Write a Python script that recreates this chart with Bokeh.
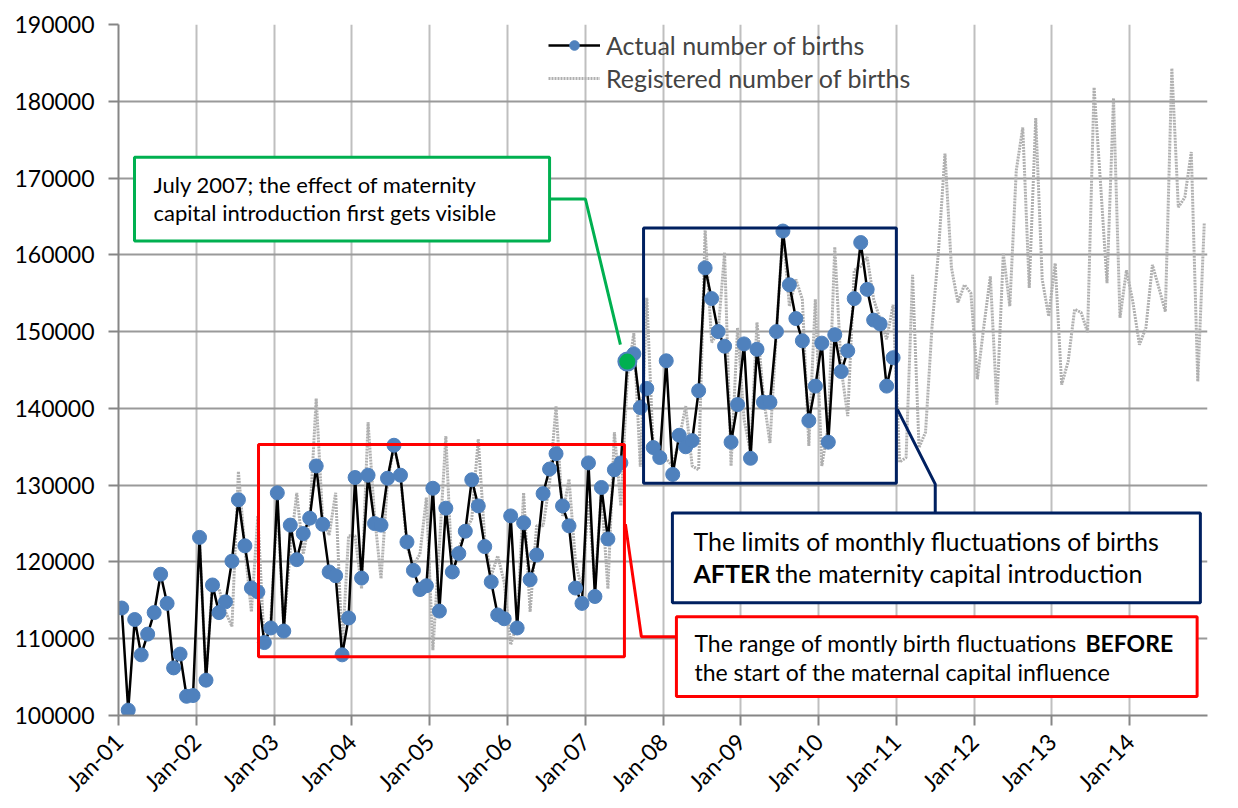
import math
from bokeh.plotting import figure
from bokeh.models import Range1d, FixedTicker, Legend, LegendItem, BoxAnnotation, Label, NumeralTickFormatter
from bokeh.embed import file_html
from bokeh.resources import INLINE

# ---------------- data ----------------
tick_labels = ["Jan-01", "Jan-02", "Jan-03", "Jan-04", "Jan-05", "Jan-06", "Jan-07",
               "Jan-08", "Jan-09", "Jan-10", "Jan-11", "Jan-12", "Jan-13", "Jan-14"]

# Actual number of births, monthly Jan 2001 - Dec 2010
actual_births = [
    114000, 100700, 112500, 107900, 110600, 113400, 118400, 114600, 106200, 108000, 102500, 102600,  # 2001
    123200, 104600, 117000, 113400, 114800, 120100, 128100, 122100, 116600, 116100, 109500, 111400,  # 2002
    129000, 111000, 124800, 120300, 123700, 125700, 132500, 124900, 118700, 118200, 107900, 112700,  # 2003
    131000, 117900, 131300, 125000, 124800, 130900, 135200, 131300, 122600, 118900, 116400, 116900,  # 2004
    129600, 113600, 127000, 118700, 121100, 124000, 130700, 127300, 122000, 117400, 113100, 112600,  # 2005
    126000, 111400, 125100, 117700, 120900, 128900, 132100, 134100, 127300, 124700, 116600, 114600,  # 2006
    132900, 115500, 129700, 123000, 132000, 132900, 146100, 147100, 140100, 142600, 134900, 133600,  # 2007
    146200, 131400, 136500, 135000, 135800, 142300, 158300, 154300, 150000, 148100, 135600, 140500,  # 2008
    148400, 133500, 147700, 140800, 140800, 150000, 163100, 156100, 151700, 148800, 138400, 142900,  # 2009
    148500, 135600, 149600, 144800, 147500, 154300, 161600, 155500, 151500, 151000, 142900, 146600,  # 2010
]

# Registered number of births, monthly Jan 2002 - Dec 2014
registered_births = [
    122500, 105000, 117400, 116500, 113500, 111600, 131800, 121700, 113500, 126000, 108800, 112500,  # 2002
    127500, 111500, 121500, 129000, 121000, 125600, 141300, 125500, 123500, 129000, 108700, 123400,  # 2003
    123400, 116500, 138200, 126000, 117800, 130400, 135100, 131300, 122000, 119600, 121000, 128400,  # 2004
    108500, 122000, 136400, 117800, 121800, 124000, 125600, 136000, 123000, 118200, 120800, 117400,  # 2005
    109200, 112000, 129000, 113500, 124700, 124700, 130200, 140300, 126000, 130800, 120000, 116400,  # 2006
    128000, 117000, 129000, 116500, 136900, 127300, 144000, 149800, 132400, 154400, 134700, 134300,  # 2007
    133400, 132500, 136000, 140300, 132500, 132000, 163200, 148600, 149900, 160300, 132500, 150500,  # 2008
    138600, 134300, 151200, 141500, 135500, 150000, 163200, 153300, 156800, 154200, 135100, 154200,  # 2009
    132500, 137700, 161000, 145100, 139000, 158000, 158500, 159700, 154200, 151600, 149000, 153500,  # 2010
    133000, 133600, 157400, 134900, 136900, 150600, 160500, 173200, 158300, 153800, 156100, 155000,  # 2011
    143800, 150700, 157200, 140500, 160200, 153300, 171000, 176600, 155700, 177800, 156800, 152000,  # 2012
    158900, 143100, 146100, 152900, 152500, 149900, 181800, 169300, 156300, 180400, 151800, 158000,  # 2013
    153800, 148300, 150500, 158700, 155700, 152600, 184300, 166200, 167500, 173400, 143500, 164100,  # 2014
]

actual_start_month = 0       # Jan 2001
registered_start_month = 12  # Jan 2002
highlight_month = 78         # July 2007

# month index -> x (centre of month on a date axis starting Jan 2001)
ax = [actual_start_month + i + 0.5 for i in range(len(actual_births))]
rx = [registered_start_month + i + 0.5 for i in range(len(registered_births))]

FONT = "Lato"

p = figure(width=1230, height=808, output_backend="svg", toolbar_location=None,
           x_range=Range1d(0, 168), y_range=Range1d(100000, 190000),
           min_border_left=118, min_border_right=23, min_border_top=24, min_border_bottom=91)
p.outline_line_color = None
p.background_fill_color = "white"
p.border_fill_color = "white"

# axes
p.xaxis.ticker = FixedTicker(ticks=[12 * i for i in range(14)])
p.xaxis.major_label_overrides = {12 * i: lab for i, lab in enumerate(tick_labels)}
p.xaxis.major_label_orientation = math.pi / 4
p.xaxis.major_label_text_font = FONT
p.xaxis.major_label_text_font_size = "23px"
p.xaxis.major_label_text_color = "black"
p.xaxis.major_label_standoff = 12
p.yaxis.ticker = FixedTicker(ticks=[100000 + 10000 * i for i in range(10)])
p.yaxis.formatter = NumeralTickFormatter(format="0")
p.yaxis.major_label_text_font = FONT
p.yaxis.major_label_text_font_size = "23px"
p.yaxis.major_label_text_color = "black"
p.yaxis.major_label_standoff = 14
for a in (p.xaxis[0], p.yaxis[0]):
    a.axis_line_color = "#868686"
    a.axis_line_width = 2
    a.major_tick_line_color = "#868686"
    a.major_tick_line_width = 2
    a.major_tick_out = 10
    a.major_tick_in = 0
    a.minor_tick_line_color = None

p.xgrid.ticker = FixedTicker(ticks=[12 * i for i in range(15)])
p.xgrid.grid_line_color = "#BFBFBF"
p.xgrid.grid_line_width = 2
p.ygrid.grid_line_color = "#9A9A9A"
p.ygrid.grid_line_width = 2

# series
r_reg = p.line(rx, registered_births, line_color="#B0B0B0", line_width=3, line_dash="2 1")
r_act_line = p.line(ax, actual_births, line_color="black", line_width=2.5)
r_act_pts = p.scatter(ax, actual_births, size=14, fill_color="#4F81BD", line_color="#4F81BD")
p.scatter([ax[highlight_month]], [actual_births[highlight_month]], size=18,
          fill_color="#00B050", line_color="#4F81BD", line_width=2)

legend = Legend(items=[
    LegendItem(label="Actual number of births", renderers=[r_act_line, r_act_pts]),
    LegendItem(label="Registered number of births", renderers=[r_reg]),
], location=(430, 622))
legend.label_text_font = FONT
legend.label_text_font_size = "25px"
legend.glyph_width = 52
legend.glyph_height = 24
legend.label_height = 24
legend.label_standoff = 6
legend.spacing = 3
legend.padding = 0
legend.margin = 0
legend.border_line_color = None
legend.background_fill_alpha = 0
p.add_layout(legend, "center")

# connector lines
p.line([66.5, 72.03, 77.43], [167270, 167270, 148310], line_color="#00B050", line_width=3)
p.line([78.2, 80.67, 86.07], [124930, 110260, 110260], line_color="#FF0000", line_width=3)
p.line([120.16, 126.0, 126.0], [139870, 130130, 126360], line_color="#002060", line_width=3)

def box(l, r, b, t, color, fill=False):
    p.add_layout(BoxAnnotation(left=l, right=r, bottom=b, top=t,
                               fill_color="white", fill_alpha=1 if fill else 0,
                               line_color=color, line_alpha=1, line_width=3))

# range boxes
box(21.6, 78.05, 107660, 135300, "#FF0000")
box(81.0, 120.0, 130260, 163500, "#002060")
# callout boxes
box(2.47, 66.5, 161800, 172700, "#00B050", fill=True)
box(86.07, 166.4, 102470, 112860, "#FF0000", fill=True)
box(85.45, 166.9, 114680, 126360, "#002060", fill=True)

def lab(x, y, t, size, bold=False):
    p.add_layout(Label(x=x, y=y, text=t, text_font=FONT, text_font_size=size,
                       text_font_style="bold" if bold else "normal", text_color="black",
                       text_baseline="middle", text_align="left"))

lab(5.40, 169220, "July 2007; the effect of maternity", "22px")
lab(5.40, 165450, "capital introduction first gets visible", "22px")
lab(88.69, 122730, "The limits of monthly fluctuations of births", "25px")
lab(88.69, 118570, "AFTER", "25px", bold=True)
lab(101.34, 118570, "the maternity capital introduction", "25px")
lab(88.85, 109480, "The range of montly birth fluctuations", "23px")
lab(149.16, 109480, "BEFORE", "23px", bold=True)
lab(88.85, 105710, "the start of the maternal capital influence", "23px")

open("out.html", "w").write(file_html(p, INLINE))
